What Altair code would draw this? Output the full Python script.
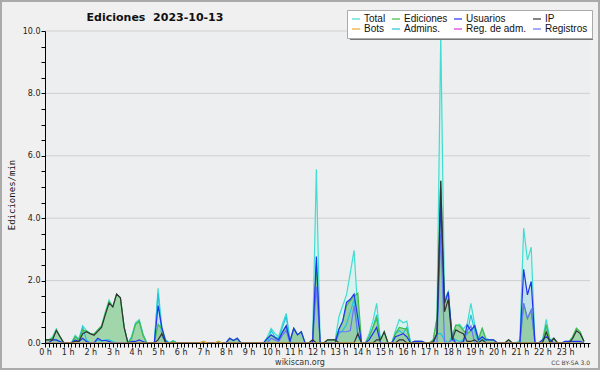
import altair as alt
import pandas as pd

# ---- data: values per 10-minute slot, 6 per hour, hours 0..23 ----
total = [
    0.1, 0.1, 0.2, 0.45, 0.2, 0,
    0, 0, 0.25, 0.13, 0.55, 0.4,
    0.3, 0.28, 0.42, 0.55, 1.0, 1.38,
    1.16, 1.57, 1.45, 0.5, 0, 0.2,
    0.65, 0.75, 0.3, 0, 0, 0,
    1.75, 0.5, 0.1, 0, 0.07, 0,
    0, 0, 0, 0, 0, 0,
    0.05, 0, 0, 0, 0.05, 0,
    0, 0.15, 0.08, 0.15, 0, 0,
    0, 0, 0, 0, 0, 0.2,
    0.47, 0.3, 0.2, 0.6, 0.95, 0.1,
    0.47, 0.26, 0.36, 0, 0, 0.1,
    5.57, 0, 0, 0.1, 0.1, 0.1,
    0.85, 1.2, 1.55, 2.25, 2.97, 1.0,
    0, 0, 0.3, 0.7, 1.27, 0.1,
    0.36, 0, 0, 0.4, 0.75, 0.65,
    0.7, 0, 0.05, 0.05, 0.05, 0,
    0, 0.1, 0.8, 9.9, 1.4, 1.65,
    0.2, 0.55, 0.6, 0.45, 0.6, 1.27,
    0.6, 0.15, 0.47, 0.15, 0.1, 0.1,
    0, 0, 0, 0.1, 0, 0,
    0.1, 3.68, 2.66, 3.07, 0, 0,
    0.1, 0.76, 0.1, 0.15, 0, 0,
    0.05, 0.05, 0.2, 0.47, 0.35, 0.05,
]
ediciones = [
    0.1, 0.1, 0.15, 0.42, 0.2, 0,
    0, 0, 0.2, 0.1, 0.42, 0.38,
    0.3, 0.28, 0.42, 0.55, 0.95, 1.33,
    1.16, 1.57, 1.45, 0.5, 0, 0.15,
    0.6, 0.7, 0.25, 0, 0, 0,
    0.6, 0.45, 0.05, 0, 0.05, 0,
    0, 0, 0, 0, 0, 0,
    0.05, 0, 0, 0, 0.05, 0,
    0, 0.15, 0.08, 0.15, 0, 0,
    0, 0, 0, 0, 0, 0.15,
    0.26, 0.18, 0.1, 0.35, 0.55, 0.05,
    0.47, 0.26, 0.36, 0, 0, 0.1,
    2.5, 0, 0, 0.1, 0.1, 0.1,
    0.45, 0.7, 1.2, 1.35, 1.5, 1.6,
    0, 0, 0.2, 0.5, 0.8, 0.1,
    0.36, 0, 0, 0.3, 0.5, 0.47,
    0.45, 0, 0.05, 0.05, 0.05, 0,
    0, 0.1, 0.8, 5.2, 1.3, 1.6,
    0.2, 0.58, 0.55, 0.4, 0.3, 0.4,
    0.55, 0.1, 0.47, 0.1, 0.1, 0.1,
    0, 0, 0, 0.1, 0, 0,
    0, 1.27, 0.79, 1.06, 0, 0,
    0.05, 0.58, 0.05, 0.15, 0, 0,
    0, 0, 0.2, 0.47, 0.35, 0.05,
]
usuarios = [
    0, 0, 0.1, 0.1, 0.05, 0,
    0, 0, 0.1, 0.05, 0.15, 0.05,
    0, 0, 0.15, 0.08, 0.08, 0.05,
    0, 0, 0, 0, 0, 0.05,
    0.05, 0.1, 0.05, 0, 0, 0,
    1.2, 0.5, 0.05, 0, 0, 0,
    0, 0, 0, 0, 0, 0,
    0, 0, 0, 0, 0, 0,
    0, 0.15, 0.08, 0.15, 0, 0,
    0, 0, 0, 0, 0, 0.15,
    0.26, 0.18, 0.1, 0.35, 0.55, 0.05,
    0.47, 0.26, 0.36, 0, 0, 0,
    2.77, 0, 0, 0, 0, 0,
    0.45, 0.7, 1.3, 1.4, 1.57, 0.8,
    0, 0, 0.1, 0.3, 0.5, 0,
    0, 0, 0, 0.2, 0.25, 0.3,
    0.2, 0, 0.05, 0.05, 0.05, 0,
    0, 0, 0.3, 4.5, 1.27, 1.64,
    0.2, 0, 0, 0.05, 0.58, 0.4,
    0.55, 0.1, 0.2, 0.1, 0.1, 0.1,
    0, 0, 0, 0, 0, 0,
    0, 2.36, 1.54, 1.97, 0, 0,
    0.1, 0.2, 0.1, 0, 0, 0,
    0.05, 0.05, 0.05, 0.05, 0.05, 0,
]
ip = [
    0.1, 0.1, 0.1, 0.4, 0.2, 0,
    0, 0, 0.05, 0.05, 0.3, 0.36,
    0.3, 0.25, 0.37, 0.5, 0.9, 1.28,
    1.16, 1.57, 1.45, 0.5, 0, 0,
    0, 0, 0, 0, 0, 0,
    0.1, 0.3, 0, 0, 0, 0,
    0, 0, 0, 0, 0, 0,
    0, 0, 0, 0, 0, 0,
    0, 0, 0, 0, 0, 0,
    0, 0, 0, 0, 0, 0,
    0, 0, 0, 0, 0, 0,
    0, 0, 0, 0, 0, 0.1,
    0, 0, 0, 0.1, 0.1, 0.1,
    0, 0, 0, 0, 0, 0.3,
    0, 0, 0, 0, 0.1, 0.1,
    0.36, 0, 0, 0, 0.1, 0.1,
    0, 0, 0, 0, 0, 0,
    0, 0.05, 0.3, 5.2, 1.0, 1.4,
    0.1, 0.42, 0.35, 0.3, 0.05, 0.05,
    0.1, 0, 0.1, 0, 0, 0,
    0, 0, 0, 0.1, 0, 0,
    0, 0, 0, 0, 0, 0,
    0, 0.35, 0, 0.15, 0, 0,
    0, 0, 0.15, 0.39, 0.3, 0.05,
]
admins = [
    0, 0, 0.1, 0.1, 0, 0,
    0, 0, 0.2, 0.1, 0.5, 0.1,
    0, 0, 0.1, 0.05, 0.1, 0.1,
    0.05, 0, 0, 0, 0, 0.2,
    0.6, 0.7, 0.25, 0, 0, 0,
    1.6, 0.2, 0.1, 0, 0.07, 0,
    0, 0, 0, 0, 0, 0,
    0, 0, 0, 0, 0, 0,
    0, 0, 0, 0, 0, 0,
    0, 0, 0, 0, 0, 0,
    0.4, 0.2, 0.15, 0.5, 0.85, 0.05,
    0, 0, 0, 0, 0, 0,
    0, 0, 0, 0, 0, 0,
    0.3, 0.4, 0.6, 1.0, 1.4, 0.2,
    0, 0, 0.2, 0.5, 0.9, 0,
    0, 0, 0, 0.3, 0.4, 0.3,
    0.5, 0, 0, 0, 0, 0,
    0, 0, 0.3, 0.3, 0.1, 0,
    0.2, 0.1, 0.05, 0.1, 0.3, 0.9,
    0.4, 0, 0.2, 0, 0, 0,
    0, 0, 0, 0, 0, 0,
    0, 0, 0, 0, 0, 0,
    0, 0.6, 0, 0, 0, 0,
    0, 0, 0, 0, 0, 0,
]
registros = [
    0, 0, 0, 0, 0, 0,
    0, 0, 0, 0, 0, 0,
    0, 0, 0, 0, 0, 0,
    0, 0, 0, 0, 0, 0,
    0, 0, 0, 0, 0, 0,
    0, 0, 0, 0, 0, 0,
    0, 0, 0, 0, 0, 0,
    0, 0, 0, 0, 0, 0,
    0, 0, 0, 0, 0, 0,
    0, 0, 0, 0, 0, 0,
    0.15, 0.1, 0.05, 0.25, 0.4, 0,
    0, 0, 0, 0, 0, 0,
    1.8, 0, 0, 0, 0, 0,
    0.36, 0.36, 0.36, 0.4, 1.2, 0.3,
    0, 0, 0, 0, 0, 0,
    0, 0, 0, 0, 0, 0,
    0, 0, 0, 0, 0, 0,
    0, 0, 0, 3.5, 0, 0,
    0.1, 0, 0, 0, 0.4, 0.55,
    0, 0, 0, 0, 0, 0,
    0, 0, 0, 0, 0, 0,
    0, 1.27, 0.79, 1.06, 0, 0,
    0, 0, 0, 0, 0, 0,
    0, 0, 0, 0, 0, 0,
]
bots = [0.0] * 144
bots[42] = 0.05
bots[46] = 0.05

hour_ticks = [i / 6 for i in range(145)]
y_ticks = [i * 0.5 for i in range(21)]
grid_vals = [2, 4, 6, 8, 10]

legend_names = ["Total", "Ediciones", "Usuarios", "IP",
                "Bots", "Admins.", "Reg. de adm.", "Registros"]
legend_colors = ["#40ddd0", "#44bb44", "#2233ee", "#333333",
                 "#f5a623", "#22c4dd", "#dd33dd", "#6677ff"]

title_text = "Ediciones \u00a02023-10-13"

# ---- build tables ----
t = [i / 6 for i in range(144)]
wide = pd.DataFrame({"t": t, "Total": total, "Ediciones": ediciones,
                     "Usuarios": usuarios})
draw_order = [("Total", total), ("Admins.", admins), ("Ediciones", ediciones),
              ("Registros", registros), ("Usuarios", usuarios), ("IP", ip),
              ("Bots", bots)]
rows = []
for k, (name, vals) in enumerate(draw_order):
    for ti, v in zip(t, vals):
        rows.append({"t": ti, "v": v, "serie": name, "o": k})
long = pd.DataFrame(rows)

xs = alt.Scale(domain=[0, 24.1], nice=False, zero=False)
ys = alt.Scale(domain=[0, 10], nice=False)

x_axis = alt.Axis(values=hour_ticks, title=None, grid=False,
                  labelExpr="datum.value % 1 == 0 && datum.value < 24 ? datum.value + ' h' : ''",
                  labelOverlap=False, labelFont="DejaVu Sans", labelFontSize=8,
                  labelColor="#222", tickColor="black", domainColor="black",
                  tickSize=4, labelPadding=1, labelFlush=False, zindex=1)
y_axis = alt.Axis(values=y_ticks, title=None, grid=False,
                  labelExpr="datum.value % 2 == 0 ? format(datum.value, '.1f') : ''",
                  labelOverlap=False, labelFont="DejaVu Sans", labelFontSize=8,
                  labelColor="#222", tickColor="black", domainColor="black",
                  tickSize=4, labelPadding=1, zindex=1)


def X(field="t:Q"):
    return alt.X(field, scale=xs, axis=x_axis)


def Y(field):
    return alt.Y(field, scale=ys, axis=y_axis)


grid = alt.Chart(pd.DataFrame({"g": grid_vals})).mark_rule(
    color="#cfcfcf", strokeWidth=1).encode(y=Y("g:Q"))

area_total = alt.Chart(wide).mark_area(color="#d8f2ee", opacity=0.9, clip=True).encode(
    x=X(), y=Y("Total:Q"))
area_usu = alt.Chart(wide).mark_area(color="#b3d3e6", opacity=0.6, clip=True).encode(
    x=X(), y=Y("Usuarios:Q"))
area_ed = alt.Chart(wide).mark_area(color="#72c072", opacity=0.55, clip=True).encode(
    x=X(), y=Y("Ediciones:Q"))

lines = alt.Chart(long).mark_line(strokeWidth=1.2, clip=True).encode(
    x=X(),
    y=Y("v:Q"),
    order=alt.Order("t:Q"),
    detail="o:O",
    color=alt.Color("serie:N",
                    scale=alt.Scale(domain=legend_names, range=legend_colors),
                    legend=alt.Legend(title=None, orient="none", legendX=302, legendY=-21,
                                      direction="horizontal", columns=4,
                                      symbolType="stroke", symbolSize=64,
                                      symbolStrokeWidth=1.2,
                                      labelFont="Liberation Sans", labelFontSize=10,
                                      labelColor="#111", fillColor="white",
                                      strokeColor="#aaaaaa", padding=4,
                                      rowPadding=0, columnPadding=3,
                                      labelOffset=3, labelLimit=200)))

shadow = alt.Chart(pd.DataFrame({"a": [0]})).mark_rect(color="#777777").encode(
    x=alt.value(305), x2=alt.value(548), y=alt.value(-18), y2=alt.value(9))

title = alt.Chart(pd.DataFrame({"s": [title_text]})).mark_text(
    font="DejaVu Sans", fontSize=11, fontWeight="bold", color="#111",
    align="center", baseline="alphabetic").encode(
    text="s:N", x=alt.value(110), y=alt.value(-10))

ytitle = alt.Chart(pd.DataFrame({"s": ["Ediciones/min"]})).mark_text(
    font="DejaVu Sans Mono", fontSize=9, color="#111", angle=270,
    align="center", baseline="middle").encode(
    text="s:N", x=alt.value(-33), y=alt.value(164))

site = alt.Chart(pd.DataFrame({"s": ["wikiscan.org"]})).mark_text(
    font="DejaVu Sans", fontSize=8, color="#333", align="center",
    baseline="alphabetic").encode(text="s:N", x=alt.value(255), y=alt.value(334))

lic = alt.Chart(pd.DataFrame({"s": ["CC BY-SA 3.0"]})).mark_text(
    font="DejaVu Sans", fontSize=6, color="#444", align="right",
    baseline="alphabetic").encode(text="s:N", x=alt.value(545), y=alt.value(334))

border = alt.Chart(pd.DataFrame({"a": [0]})).mark_rect(
    fill=None, stroke="#aaaaaa", strokeWidth=2).encode(
    x=alt.value(-44), x2=alt.value(554), y=alt.value(-30), y2=alt.value(338))

chart = alt.layer(grid, area_total, area_usu, area_ed, lines, shadow,
                  title, ytitle, site, lic, border).properties(
    width=545, height=312,
    autosize=alt.AutoSizeParams(type="none"),
    padding={"left": 45, "top": 31, "right": 10, "bottom": 27},
    background="#f0f0f0",
).configure_view(fill="#eceef0", stroke=None)

chart.save("out.html", embed_options={"renderer": "svg", "actions": False})
